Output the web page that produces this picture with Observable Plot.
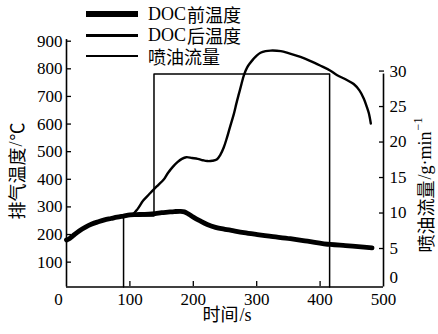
<!DOCTYPE html>
<html>
<head>
<meta charset="utf-8">
<script src="https://cdn.jsdelivr.net/npm/d3@7"></script>
<script src="https://cdn.jsdelivr.net/npm/@observablehq/plot@0.6"></script>
<style>
  html, body { margin: 0; padding: 0; background: #fff; }
  #wrap { position: relative; width: 438px; height: 334px; }
  #legend { position: absolute; left: 86px; top: 4px; font-size: 18px; line-height: 18px; color: #000; }
  #legend .row { display: flex; align-items: center; height: 20.8px; white-space: pre; }
  #legend .sw { width: 52px; margin-right: 10px; background: #000; }
  #legend .lat, #legend .cjk { display: inline-block; height: 18px; line-height: 18px; overflow: visible; }
  .lat { font-family: 'Liberation Serif', serif; margin-right: 1px; }
  .cjk { font-family: 'Noto Sans CJK SC', sans-serif; }
</style>
</head>
<body>
<div id="wrap"></div>
<script>
// ---- data ----
const frontTime = [0, 5, 10, 20, 30, 40, 50, 60, 70, 80, 90, 100, 110, 120, 130, 140, 150, 160, 170, 180, 186, 192, 200, 210, 222, 235, 250, 260, 280, 301, 320, 353, 380, 416, 440, 460, 482];
const frontTemp = [180, 186, 195, 213, 227, 238, 246, 253, 258, 263, 267, 271, 272, 273, 274, 276, 279, 281, 283, 284, 282, 275, 263, 250, 236, 226, 219, 215, 207, 200, 194, 185, 176, 164, 160, 156, 152];

const afterTime = [0, 5, 10, 20, 30, 40, 50, 60, 70, 80, 90, 100, 105, 112, 121, 130, 137, 145, 153, 160, 168, 175, 182, 189, 198, 207, 215, 222, 230, 237, 243, 248, 253, 258, 264, 268, 272, 276, 280, 285, 290, 295, 300, 306, 314, 322, 338, 350, 369, 385, 400, 415, 427, 440, 453, 462, 469, 474, 477, 480];
const afterTemp = [180, 186, 195, 213, 227, 238, 246, 253, 258, 263, 267, 271, 274, 292, 323, 345, 362, 380, 398, 423, 446, 462, 474, 480, 477, 474, 469, 466, 467, 472, 490, 515, 550, 590, 637, 675, 710, 745, 778, 805, 822, 836, 848, 858, 864, 866, 864, 857, 843, 828, 812, 795, 777, 762, 745, 722, 692, 660, 638, 602];

const flowTime = [90, 90, 138, 138, 415, 415];
const flowRate = [0, 10, 10, 30, 30, 0];

const xTicks = [0, 100, 200, 300, 400, 500];
const tempTicks = [100, 200, 300, 400, 500, 600, 700, 800, 900];
const flowTicks = [0, 5, 10, 15, 20, 25, 30];

// legend entries split into Latin / CJK parts (for font selection)
const seriesNames = [["DOC", "前温度"], ["DOC", "后温度"], ["", "喷油流量"]];
const legendWidths = [6, 3, 2];

// ---- secondary axis mapping: flow (g/min) onto the temperature scale ----
const tBase = 10, tPerFlow = 25.7;
const toT = f => tBase + tPerFlow * f;
const toFlow = t => Math.round((t - tBase) / tPerFlow);

const front = frontTime.map((t, i) => ({t, v: frontTemp[i]}));
const after = afterTime.map((t, i) => ({t, v: afterTemp[i]}));
const flow = flowTime.map((t, i) => ({t, v: toT(flowRate[i])}));

const latFont = `'Liberation Serif', serif`;
const cjkFont = `'Noto Sans CJK SC', sans-serif`;
const tickText = {fontSize: 17, fontFamily: latFont, label: null};

const chart = Plot.plot({
  width: 438,
  height: 334,
  marginLeft: 66, marginRight: 55, marginTop: 40, marginBottom: 48,
  x: {domain: [0, 500], range: [66, 383]},
  y: {domain: [10, 900], range: [286.5, 40.7]},
  style: {fontFamily: latFont, fontSize: "17px", color: "#000", background: "#fff", overflow: "visible"},
  marks: [
    // axis lines
    Plot.ruleX([xTicks[0]], {y1: tBase, y2: tempTicks[tempTicks.length - 1] + 6, stroke: "#000", strokeWidth: 1.6}),
    Plot.ruleX([xTicks[xTicks.length - 1]], {y1: toT(0), y2: toT(flowTicks[flowTicks.length - 1]), stroke: "#000", strokeWidth: 1.6}),
    Plot.ruleY([tBase], {x1: xTicks[0], x2: xTicks[xTicks.length - 1], stroke: "#000", strokeWidth: 1.6}),
    Plot.axisX({ticks: xTicks.slice(1, -1), tickSize: -5, tickPadding: 0, tickFormat: () => "", label: null, strokeWidth: 1.3}),
    Plot.axisX({...tickText, ticks: xTicks.slice(0, 1), tickSize: 0, tickPadding: 6, dx: -8}),
    Plot.axisX({...tickText, ticks: xTicks.slice(1), tickSize: 0, tickPadding: 6}),
    Plot.axisY({...tickText, ticks: tempTicks, tickSize: -5, tickPadding: 9, strokeWidth: 1.3}),
    Plot.axisY({...tickText, anchor: "right", ticks: flowTicks.slice(1).map(toT), tickFormat: toFlow, tickSize: -5, tickPadding: 11, dy: -3, strokeWidth: 1.3}),
    Plot.axisY({...tickText, anchor: "right", ticks: flowTicks.slice(0, 1).map(toT), tickFormat: toFlow, tickSize: 0, tickPadding: 6, dy: -9}),
    // data
    Plot.line(flow, {x: "t", y: "v", stroke: "#000", strokeWidth: 1.5}),
    Plot.line(after, {x: "t", y: "v", stroke: "#000", strokeWidth: 2.4, curve: "catmull-rom"}),
    Plot.line(front, {x: "t", y: "v", stroke: "#000", strokeWidth: 4.8, curve: "catmull-rom"})
  ]
});

const wrap = document.getElementById("wrap");
wrap.appendChild(chart);

// axis titles (mixed fonts via tspans)
const svg = d3.select(chart);
function title(transform, parts, central) {
  const t = svg.append("text").attr("transform", transform).attr("text-anchor", "middle")
    .attr("font-size", 18).attr("fill", "#000");
  if (central) t.attr("dominant-baseline", "central");
  parts.forEach((p, i) => {
    const s = t.append("tspan").style("font-family", p.cjk ? cjkFont : latFont).text(p.text);
    if (i > 0) s.attr("dx", 1);
    if (p.sup) s.attr("font-size", 12).attr("dy", -7);
  });
  return t;
}
title("translate(227,321)", [{text: "时间", cjk: true}, {text: "/s"}], false);
title("translate(16,171) rotate(-90)", [{text: "排气温度", cjk: true}, {text: "/"}, {text: "℃", cjk: true}], true);
title("translate(425,185) rotate(-90)", [{text: "喷油流量", cjk: true}, {text: "/g·min"}, {text: "−1", sup: true}], true);

// legend
const legend = d3.select(wrap).append("div").attr("id", "legend");
seriesNames.forEach(([lat, cjk], i) => {
  const row = legend.append("div").attr("class", "row");
  row.append("span").attr("class", "sw").style("height", legendWidths[i] + "px");
  if (lat) row.append("span").attr("class", "lat").text(lat);
  row.append("span").attr("class", "cjk").text(cjk);
});
</script>
</body>
</html>
